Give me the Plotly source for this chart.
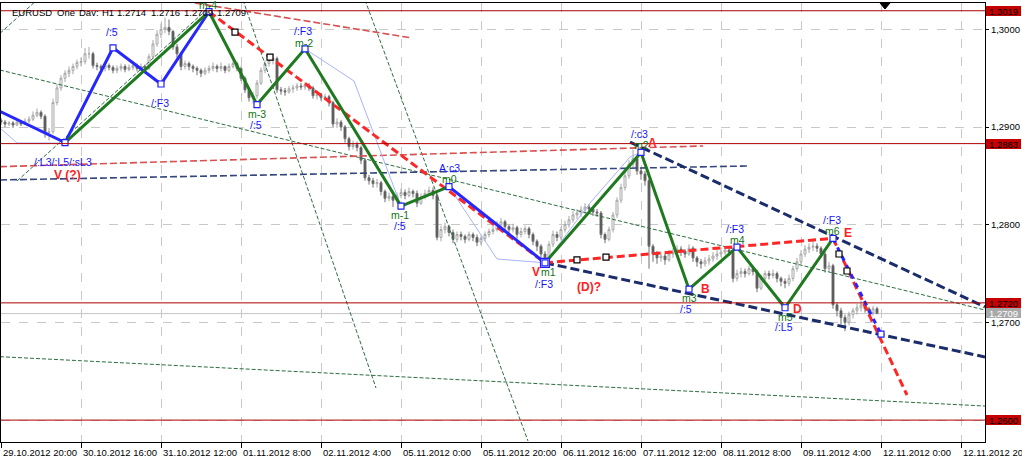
import plotly.graph_objects as go

# ---------------- data ----------------
tick_bars = [0, 20, 40, 60, 80, 100, 120, 140, 160, 180, 200, 220, 240]
tick_labels = ["29.10.2012 20:00", "30.10.2012 16:00", "31.10.2012 12:00", "01.11.2012 8:00",
               "02.11.2012 4:00", "05.11.2012 0:00", "05.11.2012 20:00", "06.11.2012 16:00",
               "07.11.2012 12:00", "08.11.2012 8:00", "09.11.2012 4:00", "12.11.2012 0:00",
               "12.11.2012 20:00"]
price_ticks = [1.26, 1.27, 1.28, 1.29, 1.30]
price_tick_text = ["1,2600", "1,2700", "1,2800", "1,2900", "1,3000"]
level_prices = [1.3019, 1.2883, 1.2720, 1.2600]
level_text = ["1,3019", "1,2883", "1,2720", "1,2600"]
bid_price = 1.2709
bid_text = "1,2709"

closes = [
    1.2905, 1.2903, 1.2904, 1.2902, 1.2905, 1.2903, 1.2906, 1.2908, 1.2912, 1.2915,
    1.2911, 1.2894, 1.2895, 1.2925, 1.2940, 1.2950, 1.2955, 1.2958, 1.2962, 1.2966,
    1.2967, 1.2975, 1.2975, 1.2963, 1.2962, 1.2960, 1.2963, 1.2961, 1.2958, 1.2960,
    1.2962, 1.2959, 1.2961, 1.2963, 1.2960, 1.2962, 1.2960, 1.2972, 1.2985, 1.2995,
    1.3000, 1.3002, 1.2998, 1.2982, 1.2975, 1.2962, 1.2965, 1.2962, 1.2960, 1.2958,
    1.2955, 1.2958, 1.2960, 1.2962, 1.2960, 1.2962, 1.2958, 1.2962, 1.2965, 1.2960,
    1.2950, 1.2938, 1.2930, 1.2932, 1.2945, 1.2958, 1.2965, 1.2968, 1.2970, 1.2938,
    1.2937, 1.2936, 1.2939, 1.2940, 1.2942, 1.2941, 1.2943, 1.2940, 1.2932, 1.2933,
    1.2930, 1.2931, 1.2925, 1.2903, 1.2905, 1.2900, 1.2888, 1.2880, 1.2882, 1.2879,
    1.2866, 1.2848, 1.2845, 1.2842, 1.2843, 1.2834, 1.2827, 1.2829, 1.2825, 1.2830,
    1.2833, 1.2830, 1.2834, 1.2832, 1.2822, 1.2828, 1.2832, 1.2835, 1.2830, 1.2787,
    1.2795, 1.2798, 1.2792, 1.2785, 1.2790, 1.2788, 1.2785, 1.2790, 1.2787, 1.2782,
    1.2786, 1.2790, 1.2793, 1.2795, 1.2800, 1.2803, 1.2798, 1.2795, 1.2797, 1.2790,
    1.2793, 1.2796, 1.2790, 1.2783, 1.2778, 1.2770, 1.2766, 1.2780, 1.2790, 1.2787,
    1.2795, 1.2800, 1.2805, 1.2810, 1.2812, 1.2815, 1.2818, 1.2816, 1.2813, 1.2812,
    1.2790, 1.2785, 1.2795, 1.2810, 1.2825, 1.2838, 1.2850, 1.2862, 1.2868, 1.2855,
    1.2852, 1.2845, 1.2778, 1.2770, 1.2766, 1.2768, 1.2764, 1.2770, 1.2772, 1.2775,
    1.2773, 1.2770, 1.2776, 1.2766, 1.2762, 1.2760, 1.2763, 1.2765, 1.2768, 1.2770,
    1.2772, 1.2774, 1.2772, 1.2745, 1.2750, 1.2752, 1.2750, 1.2755, 1.2752, 1.2735,
    1.2745, 1.2750, 1.2748, 1.2750, 1.2745, 1.2742, 1.2740, 1.2745, 1.2755, 1.2762,
    1.2770, 1.2775, 1.2777, 1.2778, 1.2776, 1.2770, 1.2755, 1.2758, 1.2718, 1.2712,
    1.2705, 1.2700, 1.2708, 1.2712, 1.2715, 1.2718, 1.2714, 1.2710, 1.2714, 1.2709]

opens = [
    1.2907, 1.2905, 1.2903, 1.2904, 1.2902, 1.2905, 1.2903, 1.2906, 1.2908, 1.2912,
    1.2915, 1.2911, 1.2894, 1.2895, 1.2925, 1.2940, 1.2950, 1.2955, 1.2958, 1.2962,
    1.2966, 1.2967, 1.2975, 1.2975, 1.2963, 1.2962, 1.2960, 1.2963, 1.2961, 1.2958,
    1.2960, 1.2962, 1.2959, 1.2961, 1.2963, 1.2960, 1.2962, 1.2960, 1.2972, 1.2985,
    1.2995, 1.3000, 1.3002, 1.2998, 1.2982, 1.2975, 1.2962, 1.2965, 1.2962, 1.2960,
    1.2958, 1.2955, 1.2958, 1.2960, 1.2962, 1.2960, 1.2962, 1.2958, 1.2962, 1.2965,
    1.2960, 1.2950, 1.2938, 1.2930, 1.2932, 1.2945, 1.2958, 1.2965, 1.2968, 1.2970,
    1.2938, 1.2937, 1.2936, 1.2939, 1.2940, 1.2942, 1.2941, 1.2943, 1.2940, 1.2932,
    1.2933, 1.2930, 1.2931, 1.2925, 1.2903, 1.2905, 1.2900, 1.2888, 1.2880, 1.2882,
    1.2879, 1.2866, 1.2848, 1.2845, 1.2842, 1.2843, 1.2834, 1.2827, 1.2829, 1.2825,
    1.2830, 1.2833, 1.2830, 1.2834, 1.2832, 1.2822, 1.2828, 1.2832, 1.2835, 1.2830,
    1.2787, 1.2795, 1.2798, 1.2792, 1.2785, 1.2790, 1.2788, 1.2785, 1.2790, 1.2787,
    1.2782, 1.2786, 1.2790, 1.2793, 1.2795, 1.2800, 1.2803, 1.2798, 1.2795, 1.2797,
    1.2790, 1.2793, 1.2796, 1.2790, 1.2783, 1.2778, 1.2770, 1.2766, 1.2780, 1.2790,
    1.2787, 1.2795, 1.2800, 1.2805, 1.2810, 1.2812, 1.2815, 1.2818, 1.2816, 1.2813,
    1.2812, 1.2790, 1.2785, 1.2795, 1.2810, 1.2825, 1.2838, 1.2850, 1.2862, 1.2868,
    1.2855, 1.2852, 1.2845, 1.2778, 1.2770, 1.2766, 1.2768, 1.2764, 1.2770, 1.2772,
    1.2775, 1.2773, 1.2770, 1.2776, 1.2766, 1.2762, 1.2760, 1.2763, 1.2765, 1.2768,
    1.2770, 1.2772, 1.2774, 1.2772, 1.2745, 1.2750, 1.2752, 1.2750, 1.2755, 1.2752,
    1.2735, 1.2745, 1.2750, 1.2748, 1.2750, 1.2745, 1.2742, 1.2740, 1.2745, 1.2755,
    1.2762, 1.2770, 1.2775, 1.2777, 1.2778, 1.2776, 1.2770, 1.2755, 1.2758, 1.2718,
    1.2712, 1.2705, 1.2700, 1.2708, 1.2712, 1.2715, 1.2718, 1.2714, 1.2710, 1.2714]

highs = [
    1.2909, 1.2907, 1.2906, 1.2906, 1.2908, 1.2907, 1.2909, 1.2911, 1.2916, 1.2919,
    1.2917, 1.2913, 1.2899, 1.2929, 1.2944, 1.2953, 1.2958, 1.2962, 1.2965, 1.2969,
    1.2971, 1.2981, 1.2982, 1.2977, 1.2966, 1.2964, 1.2966, 1.2965, 1.2963, 1.2963,
    1.2965, 1.2964, 1.2964, 1.2967, 1.2965, 1.2965, 1.2964, 1.2975, 1.2989, 1.2999,
    1.3006, 1.3012, 1.3010, 1.2999, 1.2985, 1.2977, 1.2968, 1.2967, 1.2964, 1.2962,
    1.2960, 1.2961, 1.2963, 1.2966, 1.2964, 1.2966, 1.2963, 1.2965, 1.2968, 1.2967,
    1.2962, 1.2952, 1.2940, 1.2936, 1.2948, 1.2961, 1.2968, 1.2972, 1.2975, 1.2972,
    1.2941, 1.2940, 1.2942, 1.2943, 1.2945, 1.2945, 1.2946, 1.2945, 1.2942, 1.2936,
    1.2935, 1.2934, 1.2933, 1.2927, 1.2909, 1.2907, 1.2902, 1.2890, 1.2886, 1.2885,
    1.2881, 1.2868, 1.2851, 1.2848, 1.2847, 1.2845, 1.2836, 1.2833, 1.2831, 1.2833,
    1.2837, 1.2836, 1.2838, 1.2836, 1.2835, 1.2832, 1.2836, 1.2839, 1.2838, 1.2832,
    1.2799, 1.2802, 1.2800, 1.2795, 1.2793, 1.2793, 1.2790, 1.2793, 1.2792, 1.2790,
    1.2789, 1.2793, 1.2796, 1.2799, 1.2804, 1.2807, 1.2805, 1.2800, 1.2801, 1.2799,
    1.2797, 1.2799, 1.2798, 1.2792, 1.2785, 1.2780, 1.2773, 1.2783, 1.2794, 1.2793,
    1.2798, 1.2804, 1.2809, 1.2814, 1.2816, 1.2819, 1.2822, 1.2821, 1.2818, 1.2816,
    1.2814, 1.2792, 1.2798, 1.2813, 1.2828, 1.2842, 1.2854, 1.2866, 1.2877, 1.2870,
    1.2858, 1.2855, 1.2847, 1.2780, 1.2773, 1.2772, 1.2770, 1.2774, 1.2776, 1.2779,
    1.2778, 1.2775, 1.2780, 1.2778, 1.2768, 1.2765, 1.2767, 1.2769, 1.2772, 1.2774,
    1.2777, 1.2778, 1.2777, 1.2774, 1.2754, 1.2756, 1.2755, 1.2758, 1.2757, 1.2754,
    1.2748, 1.2753, 1.2753, 1.2754, 1.2752, 1.2747, 1.2745, 1.2749, 1.2758, 1.2766,
    1.2774, 1.2779, 1.2781, 1.2783, 1.2781, 1.2778, 1.2772, 1.2762, 1.2760, 1.2720,
    1.2715, 1.2708, 1.2711, 1.2715, 1.2719, 1.2722, 1.2720, 1.2716, 1.2717, 1.2716]

lows = [
    1.2902, 1.2900, 1.2901, 1.2899, 1.2901, 1.2901, 1.2902, 1.2904, 1.2906, 1.2910,
    1.2908, 1.2889, 1.2886, 1.2893, 1.2922, 1.2937, 1.2946, 1.2951, 1.2954, 1.2959,
    1.2962, 1.2964, 1.2970, 1.2960, 1.2958, 1.2956, 1.2957, 1.2958, 1.2955, 1.2955,
    1.2957, 1.2956, 1.2957, 1.2958, 1.2957, 1.2958, 1.2956, 1.2958, 1.2970, 1.2982,
    1.2991, 1.2996, 1.2994, 1.2979, 1.2971, 1.2958, 1.2959, 1.2958, 1.2956, 1.2953,
    1.2951, 1.2953, 1.2955, 1.2957, 1.2956, 1.2957, 1.2955, 1.2956, 1.2960, 1.2957,
    1.2947, 1.2935, 1.2926, 1.2924, 1.2929, 1.2943, 1.2955, 1.2962, 1.2964, 1.2935,
    1.2933, 1.2932, 1.2934, 1.2935, 1.2937, 1.2938, 1.2938, 1.2937, 1.2929, 1.2928,
    1.2927, 1.2927, 1.2921, 1.2900, 1.2899, 1.2896, 1.2884, 1.2876, 1.2877, 1.2875,
    1.2862, 1.2845, 1.2841, 1.2838, 1.2838, 1.2830, 1.2823, 1.2824, 1.2818, 1.2822,
    1.2827, 1.2826, 1.2828, 1.2828, 1.2818, 1.2820, 1.2826, 1.2830, 1.2826, 1.2784,
    1.2783, 1.2791, 1.2788, 1.2781, 1.2782, 1.2784, 1.2781, 1.2783, 1.2783, 1.2778,
    1.2779, 1.2783, 1.2787, 1.2790, 1.2793, 1.2797, 1.2794, 1.2791, 1.2792, 1.2786,
    1.2787, 1.2790, 1.2786, 1.2779, 1.2773, 1.2766, 1.2761, 1.2764, 1.2777, 1.2783,
    1.2784, 1.2792, 1.2797, 1.2802, 1.2806, 1.2808, 1.2811, 1.2812, 1.2809, 1.2808,
    1.2786, 1.2781, 1.2783, 1.2792, 1.2807, 1.2822, 1.2835, 1.2847, 1.2858, 1.2851,
    1.2846, 1.2840, 1.2755, 1.2762, 1.2760, 1.2762, 1.2759, 1.2762, 1.2766, 1.2769,
    1.2768, 1.2766, 1.2768, 1.2762, 1.2757, 1.2755, 1.2757, 1.2759, 1.2762, 1.2764,
    1.2767, 1.2769, 1.2768, 1.2741, 1.2742, 1.2746, 1.2746, 1.2748, 1.2748, 1.2731,
    1.2733, 1.2742, 1.2744, 1.2745, 1.2741, 1.2737, 1.2735, 1.2737, 1.2742, 1.2752,
    1.2759, 1.2767, 1.2771, 1.2773, 1.2772, 1.2766, 1.2751, 1.2752, 1.2714, 1.2706,
    1.2698, 1.2691, 1.2697, 1.2704, 1.2708, 1.2711, 1.2710, 1.2706, 1.2707, 1.2709]

bars = list(range(len(closes)))

# zigzag vertices (bar index, price)
blue1_x = [-0.25, 16, 28, 40, 52]
blue1_y = [1.2916, 1.2884, 1.2981, 1.2944, 1.3018]
green1_x = [16, 52, 64, 76, 100, 112]
green1_y = [1.2884, 1.3018, 1.2923, 1.2980, 1.2819, 1.2839]
blue2_x = [112, 136]
blue2_y = [1.2839, 1.2761]
green2_x = [136, 160, 172, 184, 196, 208]
green2_y = [1.2761, 1.2874, 1.2734, 1.2777, 1.2715, 1.2786]
blue3_x = [208, 220]
blue3_y = [1.2786, 1.2688]

sq_x = [16, 28, 40, 52, 64, 76, 100, 112, 136, 160, 172, 184, 196, 208, 220]
sq_y = [1.2884, 1.2981, 1.2944, 1.3018, 1.2923, 1.2980, 1.2819, 1.2839, 1.2761,
        1.2874, 1.2734, 1.2777, 1.2715, 1.2786, 1.2688]
black_sq_x = [58.5, 67.25, 144.0, 151.25, 209.5, 211.5]
black_sq_y = [1.29972, 1.29716, 1.27639, 1.27669, 1.27700, 1.27526]

# light blue minor zigzag
light_x = [-0.25, 4, 16, None, 76, 88.25, 100, None, 112, 124, 136, None, 136, 147.25, 157.25, 160]
light_y = [1.2899, 1.28836, 1.28836, None, 1.2980, 1.29471, 1.2819, None, 1.2839, 1.27649, 1.2761,
           None, 1.2761, 1.28222, 1.28693, 1.2874]

# red thick dashed lines
red1_x = [52, 136]
red1_y = [1.3018, 1.2761]
red2_x = [136, 208]
red2_y = [1.2761, 1.2786]
red3_x = [208, 226.5]
red3_y = [1.2786, 1.26257]

# navy channel and thin guide lines
navy_up_x = [157.25, 246]
navy_up_y = [1.28846, 1.27158]
navy_low_x = [136, 246]
navy_low_y = [1.2761, 1.26646]
navy_thin_x = [-0.25, 186.75]
navy_thin_y = [1.28458, 1.28601]
red_thin_x = [-0.25, 175.5]
red_thin_y = [1.28594, 1.28806]
red_top_x = [46, 102.75]
red_top_y = [1.30285, 1.29911]

# thin dark-green dashed lines
green_lines = [
    ([-0.25, 246], [1.29583, 1.27127]),
    ([-0.25, 246], [1.26649, 1.26144]),
    ([-0.25, 9], [1.29959, 1.30300]),
    ([4, 52.75], [1.28447, 1.30249]),
    ([60.5, 93.75], [1.30300, 1.26329]),
    ([91, 131.75], [1.30300, 1.25786]),
]

# labels: (text, bar, price)
blue_labels = [("/:5", 27.75, 1.29972), ("/:F3", 39.75, 1.29246), ("/:L3/:L5/:sL3", 15.5, 1.28642),
               ("/:5", 63.75, 1.29020), ("/:F3", 75.5, 1.29983), ("/:5", 99.75, 1.27987),
               ("A:c3", 112, 1.28580), ("/:F3", 135.75, 1.27398), ("/:c3", 159.5, 1.28928),
               ("/:5", 171.25, 1.27137), ("/:F3", 183.5, 1.27956), ("/:L5", 195.75, 1.26948),
               ("/:F3", 207.75, 1.28048)]
green_labels = [("m-4", 51.75, 1.30249), ("m-3", 64, 1.29133), ("m-2", 75.75, 1.29860),
                ("m-1", 99.75, 1.28099), ("m0", 112, 1.28463), ("m1", 136.75, 1.27516),
                ("m2", 160, 1.28816), ("m3", 172, 1.27250), ("m4", 184, 1.27843),
                ("m5", 196, 1.27060), ("m6", 207.75, 1.27936)]
red_labels = [("V (?)", 16.5, 1.28509), ("V", 133.75, 1.27516), ("(D)?", 147, 1.27362),
              ("A", 162.75, 1.28836), ("B", 176, 1.27345), ("D", 199, 1.27137),
              ("E", 211.75, 1.27915)]

title_words = ["EURUSD", "One", "Dav:", "H1", "1.2714", "1.2716", "1.2709", "1.2709"]

# ---------------- figure ----------------
W, H = 1022, 457
ML, MR, MT, MB = 1, 37, 3, 15
X_RANGE = [0, 246]
Y_RANGE = [1.257758, 1.302692]
FONT = "Liberation Sans, Arial, sans-serif"


def px_to_paper_x(px):
    return (px - ML) / (W - ML - MR)


def px_to_paper_y(py):
    return (H - MB - py) / (H - MT - MB)


fig = go.Figure()

fig.add_trace(go.Candlestick(
    x=bars, open=opens, high=highs, low=lows, close=closes,
    increasing=dict(line=dict(color="#a6a6a6", width=1), fillcolor="#ffffff"),
    decreasing=dict(line=dict(color="#6e6e6e", width=1), fillcolor="#4a4a4a"),
    whiskerwidth=0, hoverinfo="skip", showlegend=False))


def add_line(x, y, color, width, dash=None):
    fig.add_trace(go.Scatter(x=x, y=y, mode="lines",
                             line=dict(color=color, width=width, dash=dash),
                             hoverinfo="skip", showlegend=False, connectgaps=False))


for gx, gy in green_lines:
    add_line(gx, gy, "#2c6e3f", 1, "4px,2px")

add_line(red_thin_x, red_thin_y, "#d85050", 1.6, "7px,3px")
add_line(navy_thin_x, navy_thin_y, "#34467e", 1.6, "7px,3px")
add_line(red_top_x, red_top_y, "#d85050", 1.6, "7px,3px")

add_line(light_x, light_y, "#a9b3ff", 1)

add_line(navy_up_x, navy_up_y, "#1b2c6a", 3, "9px,4px")
add_line(navy_low_x, navy_low_y, "#1b2c6a", 3, "9px,4px")

add_line(red1_x, red1_y, "#ff2626", 3, "8px,4px")
add_line(red2_x, red2_y, "#ff2626", 3, "8px,4px")
add_line(red3_x, red3_y, "#ff2626", 3, "8px,4px")

add_line(blue1_x, blue1_y, "#2626ff", 3)
add_line(green1_x, green1_y, "#1f7a1f", 3)
add_line(blue2_x, blue2_y, "#2626ff", 3)
add_line(green2_x, green2_y, "#1f7a1f", 3)
add_line(blue3_x, blue3_y, "#2626ff", 3, "5px,5px")

fig.add_trace(go.Scatter(x=[136], y=[1.2761], mode="markers",
                         marker=dict(symbol="square", size=9, color="#ffffff",
                                     line=dict(color="#2020ff", width=1.2)),
                         hoverinfo="skip", showlegend=False))
fig.add_trace(go.Scatter(x=sq_x, y=sq_y, mode="markers",
                         marker=dict(symbol="square", size=6, color="#ffffff",
                                     line=dict(color="#2020ff", width=1.2)),
                         hoverinfo="skip", showlegend=False, cliponaxis=False))
fig.add_trace(go.Scatter(x=black_sq_x, y=black_sq_y, mode="markers",
                         marker=dict(symbol="square", size=6, color="#ffffff",
                                     line=dict(color="#000000", width=1.2)),
                         hoverinfo="skip", showlegend=False))

shapes = []
for p in level_prices:
    shapes.append(dict(type="line", xref="paper", x0=0, x1=1, yref="y", y0=p, y1=p,
                       line=dict(color="#b00000", width=1), layer="above"))
shapes.append(dict(type="line", xref="paper", x0=0, x1=1, yref="y", y0=bid_price, y1=bid_price,
                   line=dict(color="#c4c4c4", width=1), layer="below"))
# chart-shift marker (small black triangle at the top)
tx0, tx1 = px_to_paper_x(880), px_to_paper_x(890)
ty0, ty1 = px_to_paper_y(3), px_to_paper_y(9)
shapes.append(dict(type="path", xref="paper", yref="paper",
                   path=f"M {tx0},{ty0} L {tx1},{ty0} L {(tx0 + tx1) / 2},{ty1} Z",
                   fillcolor="#000000", line=dict(color="#000000", width=1)))

annotations = []
for txt, bx, py in blue_labels:
    annotations.append(dict(x=bx, y=py, xref="x", yref="y", text=txt, showarrow=False,
                            font=dict(family=FONT, size=10.5, color="#1414ff")))
for txt, bx, py in green_labels:
    annotations.append(dict(x=bx, y=py, xref="x", yref="y", text=txt, showarrow=False,
                            font=dict(family=FONT, size=10.5, color="#137313")))
for txt, bx, py in red_labels:
    annotations.append(dict(x=bx, y=py, xref="x", yref="y", text=f"<b>{txt}</b>", showarrow=False,
                            font=dict(family=FONT, size=12, color="#ff2020")))

title_px = [10, 55, 77, 100, 115, 149, 182, 215]
for w, px in zip(title_words, title_px):
    annotations.append(dict(x=px_to_paper_x(px), y=px_to_paper_y(12.5), xref="paper", yref="paper",
                            text=w, showarrow=False, xanchor="left", yanchor="middle",
                            font=dict(family=FONT, size=9.5, color="#000000")))

for b, lab in zip(tick_bars, tick_labels):
    annotations.append(dict(x=b, y=0, xref="x", yref="paper", text=lab, showarrow=False,
                            xanchor="left", yanchor="top", xshift=0, yshift=-3,
                            font=dict(family=FONT, size=9.5, color="#000000")))

for p, t in zip(level_prices, level_text):
    annotations.append(dict(x=1, y=p, xref="paper", yref="y", text=t, showarrow=False,
                            xanchor="left", yanchor="middle", xshift=1, width=35, height=10,
                            borderpad=0, borderwidth=0, bgcolor="#c40000", align="center",
                            font=dict(family=FONT, size=9.5, color="#000000")))
annotations.append(dict(x=1, y=bid_price, xref="paper", yref="y", text=bid_text, showarrow=False,
                        xanchor="left", yanchor="middle", xshift=1, yshift=1, width=35, height=10,
                        borderpad=0, borderwidth=0, bgcolor="#a9a9a9", align="center",
                        font=dict(family=FONT, size=9.5, color="#ffffff")))

fig.update_layout(
    width=W, height=H, autosize=False,
    margin=dict(l=ML, r=MR, t=MT, b=MB, pad=0),
    paper_bgcolor="#ffffff", plot_bgcolor="#ffffff",
    showlegend=False, font=dict(family=FONT, size=9.5, color="#000000"),
    shapes=shapes, annotations=annotations,
    xaxis=dict(range=X_RANGE, tickvals=tick_bars, ticktext=[""] * len(tick_bars),
               showgrid=True, gridcolor="#c8c8c8", griddash="dash", gridwidth=1,
               zeroline=False, showline=True, mirror=True, linecolor="#000000", linewidth=1,
               ticks="outside", ticklen=5, tickcolor="#000000", rangeslider=dict(visible=False),
               fixedrange=True),
    yaxis=dict(range=Y_RANGE, side="right", tickvals=price_ticks, ticktext=price_tick_text,
               showgrid=True, gridcolor="#c8c8c8", griddash="dash", gridwidth=1,
               zeroline=False, showline=True, mirror=True, linecolor="#000000", linewidth=1,
               ticks="outside", ticklen=3, tickcolor="#000000",
               tickfont=dict(family=FONT, size=9.5, color="#000000"), fixedrange=True),
)

fig.write_html("out.html", config={"displayModeBar": False},
               post_script="document.body.style.margin='0';")
